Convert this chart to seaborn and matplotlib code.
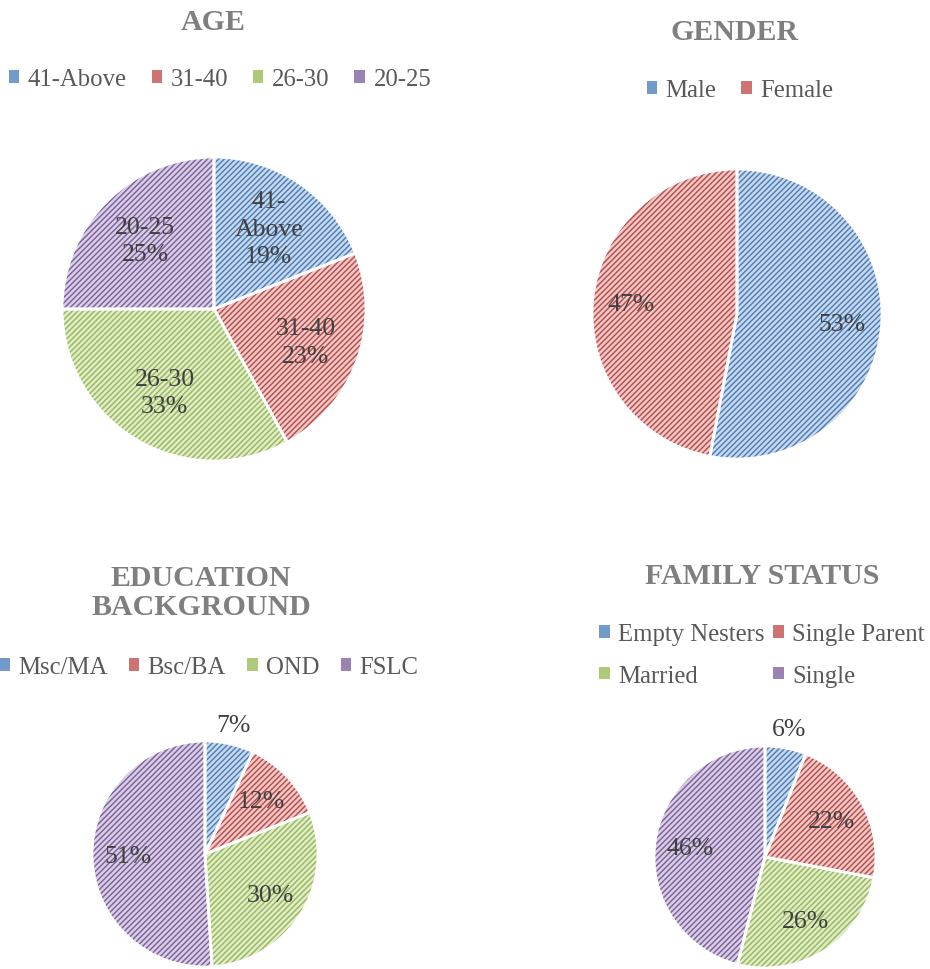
import matplotlib
matplotlib.use("Agg")
import matplotlib.pyplot as plt
import matplotlib.colors as mcolors
import seaborn as sns

# data
age_labels = ["41-Above", "31-40", "26-30", "20-25"]
age_label_text = ["41-\nAbove", "31-40", "26-30", "20-25"]
age_values = [19, 23, 33, 25]

gender_labels = ["Male", "Female"]
gender_values = [53, 47]

edu_labels = ["Msc/MA", "Bsc/BA", "OND", "FSLC"]
edu_values = [7, 12, 30, 51]

family_labels = ["Empty Nesters", "Single Parent", "Married", "Single"]
family_values = [6, 22, 26, 46]

palette = ["#4F81BD", "#C0504D", "#9BBB59", "#8064A2"]

sns.set_theme(style="white")
plt.rcParams["font.family"] = ["Liberation Serif", "DejaVu Serif"]
plt.rcParams["hatch.linewidth"] = 1.1

W, H = 930, 970
fig = plt.figure(figsize=(W / 100, H / 100), dpi=100)

TITLE_KW = dict(ha="center", va="center", fontsize=21.5, fontweight="bold", color="#7f7f7f")
FS = 17.8
LABEL_FS = 18.5


def pie_axes(cx, cy, r):
    # pie() uses limits of +-1.25 radius
    s = 2.5 * r
    return fig.add_axes([(cx - s / 2) / W, (H - cy - s / 2) / H, s / W, s / H])


def tint(c, amount=0.3):
    rgb = mcolors.to_rgb(c)
    return tuple(1 - (1 - v) * amount for v in rgb)


def draw_pie(ax, values, inner_text, dist):
    n = len(values)
    cols = palette[:n]
    wedges, _ = ax.pie(values, colors=[tint(c) for c in cols], startangle=90,
                       counterclock=False, wedgeprops=dict(linewidth=0))
    for w, c in zip(wedges, cols):
        w.set_edgecolor(c)
        w.set_hatch("//////")
    outer = lambda p: f"{p:.0f}%" if p < 10 else ""
    _, texts, _ = ax.pie(values, colors=["none"] * n, labels=inner_text,
                         labeldistance=dist, autopct=outer, pctdistance=1.17,
                         startangle=90, counterclock=False,
                         wedgeprops=dict(edgecolor="white", linewidth=2),
                         textprops=dict(color="#404040", fontsize=LABEL_FS))
    for t in texts:
        t.set_ha("center")
        t.set_va("center")
        t.set_linespacing(1.3)
    return wedges


def legend(handles, labels, x, y, ncol, colspace=1.0):
    leg = fig.legend(handles, labels, loc="center", bbox_to_anchor=(x / W, 1 - y / H),
                     ncol=ncol, frameon=False, fontsize=FS, handlelength=0.42,
                     handleheight=0.42, handletextpad=0.35, columnspacing=colspace,
                     labelspacing=0.8, labelcolor="#595959")
    for h, c in zip(leg.legend_handles, [hh.get_edgecolor() for hh in handles]):
        h.set_hatch(None)
        h.set_facecolor(tint(c, 0.8))


# AGE
ax = pie_axes(214, 310, 152)
w = draw_pie(ax, age_values, [f"{t}\n{v}%" for t, v in zip(age_label_text, age_values)], 0.64)
fig.text(213 / W, 1 - 22 / H, "AGE", **TITLE_KW)
legend(w, age_labels, 220, 80, 4)

# GENDER
ax = pie_axes(737, 315, 145)
w = draw_pie(ax, gender_values, [f"{v}%" for v in gender_values], 0.73)
fig.text(735 / W, 1 - 33 / H, "GENDER", **TITLE_KW)
legend(w, gender_labels, 740, 91, 2)

# EDUCATION
ax = pie_axes(205, 855, 113)
w = draw_pie(ax, edu_values, ["" if v < 10 else f"{v}%" for v in edu_values], 0.68)
fig.text(201 / W, 1 - 593 / H, "EDUCATION\nBACKGROUND", linespacing=1.1, **TITLE_KW)
legend(w, edu_labels, 209, 668, 4, 0.85)

# FAMILY STATUS
ax = pie_axes(765, 858, 111)
w = draw_pie(ax, family_values, ["" if v < 10 else f"{v}%" for v in family_values], 0.68)
fig.text(762 / W, 1 - 577 / H, "FAMILY STATUS", **TITLE_KW)
order = [0, 2, 1, 3]
legend([w[i] for i in order], [family_labels[i] for i in order], 762, 656, 2, 0.35)

fig.savefig("out.png", dpi=100, facecolor="white")
